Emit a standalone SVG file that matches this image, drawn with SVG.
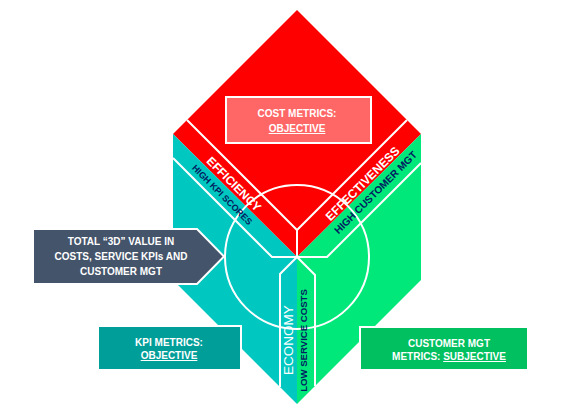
<svg xmlns="http://www.w3.org/2000/svg" width="568" height="414" viewBox="0 0 568 414">
<style>
.wl{fill:none;stroke:#fff;stroke-width:2}
.t{font-family:"Liberation Sans",Arial,sans-serif}
.wb{fill:#fff;font-weight:bold}
.nv{fill:#002060;font-weight:bold}
.box{stroke:#fff;stroke-width:2}
</style>
<rect width="568" height="414" fill="#fff"/>
<g id="faces">
<polygon id="face-cost" points="297,10 421,134 297,257 173,134" fill="#ff0000"/>
<polygon id="face-kpi" points="173,134 297,257 297,404 173,280" fill="#00c8c0"/>
<polygon id="face-customer" points="297,257 421,134 421,280 297,404" fill="#00e87a"/>
</g>
<g id="connectors">
<polyline class="wl" points="187,120 297,230 407,120"/>
<line class="wl" x1="297" y1="230" x2="297" y2="257"/>
<polyline class="wl" points="173,158 272,257 327,257 421,163"/>
<polyline class="wl" points="280,387 280,274 297,257 315,275 315,386"/>
<circle class="wl" cx="297" cy="257" r="72"/>
</g>
<g id="band-labels" class="t">
<text class="wb" font-size="12" text-anchor="middle" x="231" y="187" transform="rotate(45 231 187)">EFFICIENCY</text>
<text class="nv" font-size="9" text-anchor="middle" x="220" y="197" transform="rotate(45 220 197)">HIGH KPI SCORES</text>
<text class="wb" font-size="12" text-anchor="middle" x="365.5" y="186.5" transform="rotate(-45 365.5 186.5)">EFFECTIVENESS</text>
<text class="nv" font-size="10.2" text-anchor="middle" x="378" y="195" transform="rotate(-45 378 195)">HIGH CUSTOMER MGT</text>
<text fill="#fff" font-size="13.5" text-anchor="middle" x="293" y="340" transform="rotate(-90 293 340)">ECONOMY</text>
<text class="nv" font-size="9.6" text-anchor="middle" x="306.5" y="340.5" transform="rotate(-90 306.5 340.5)">LOW SERVICE COSTS</text>
</g>
<g id="cost-box">
<rect class="box" x="226" y="97" width="145" height="46" fill="#ff6666"/>
<text class="t wb" font-size="10" text-anchor="middle" x="297" y="117">COST METRICS:</text>
<text class="t wb" font-size="10" text-anchor="middle" x="297" y="132" text-decoration="underline">OBJECTIVE</text>
</g>
<g id="total-callout">
<polygon class="box" points="33,229 197,229 224,256.5 197,284 33,284" fill="#44546a"/>
<text class="t wb" font-size="10" text-anchor="middle" x="121" y="245">TOTAL “3D” VALUE IN</text>
<text class="t wb" font-size="10" text-anchor="middle" x="121" y="260">COSTS, SERVICE KPIs AND</text>
<text class="t wb" font-size="10" text-anchor="middle" x="121" y="275">CUSTOMER MGT</text>
</g>
<g id="kpi-box">
<rect class="box" x="98" y="326" width="143" height="44" fill="#009e99"/>
<text class="t wb" font-size="10" text-anchor="middle" x="169" y="346">KPI METRICS:</text>
<text class="t wb" font-size="10" text-anchor="middle" x="169" y="359" text-decoration="underline">OBJECTIVE</text>
</g>
<g id="customer-box">
<rect class="box" x="360" y="327" width="168" height="43" fill="#00c060"/>
<text class="t wb" font-size="10" text-anchor="middle" x="449" y="347">CUSTOMER MGT</text>
<text class="t wb" font-size="10" text-anchor="middle" x="449" y="360">METRICS: <tspan text-decoration="underline">SUBJECTIVE</tspan></text>
</g>
</svg>
